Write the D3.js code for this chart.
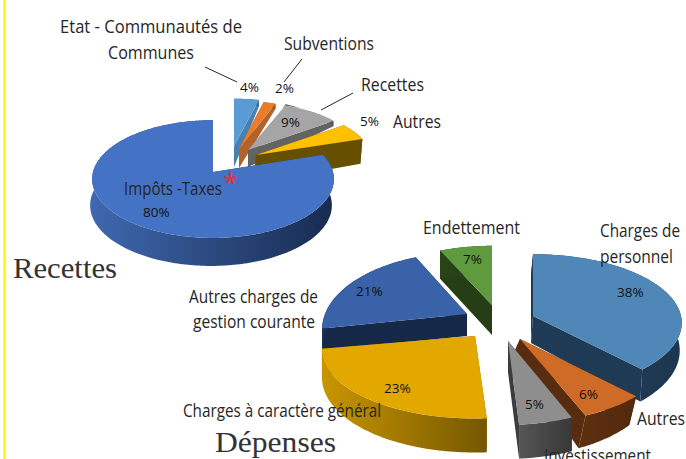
<!DOCTYPE html>
<html>
<head>
<meta charset="utf-8">
<script src="https://cdn.jsdelivr.net/npm/d3@7"></script>
<style>
  html, body { margin: 0; padding: 0; background: #fff; overflow: hidden; }
  text { font-family: "Open Sans", sans-serif; fill: #262626; }
</style>
</head>
<body>
<div id="graph"></div>
<script>
// values, clockwise from 12 o'clock
var recetteNames = ['Etat - Communautés de Communes', 'Subventions', 'Recettes', 'Autres', 'Impôts -Taxes']
var recetteValues = [4, 2, 9, 5, 80]

var depenseNames = ['Charges de personnel', 'Autres', 'Investissement', 'Charges à caractère général', 'Autres charges de gestion courante', 'Endettement']
var depenseValues = [38, 6, 5, 23, 21, 7]

// one row per slice: explode dx, dy, radius x, radius y, wall depth, depth change, wall x shift, perspective
var recetteShape = [
  [21, -26, 112, 53, 21, 15, 0, 0.12],
  [26, -23, 110, 54, 19, 15, 0, 0.12],
  [35, -22, 113, 53, 17, 20, 0, 0.12],
  [43, -17, 116, 54, 28, 10, -2, 0.12],
  [0, 0, 120, 58, 26, 2, -2, 0.12]
]
var depenseShape = [
  [43, -9, 148, 68, 27, 7, -2, 0.1],
  [30, 14, 145, 67, 16, 18, -7, 0.2],
  [18, 16, 141, 67, 31, 3, 0, 0.2],
  [-15, 11, 150, 66, 26, 8, 0, 0.2],
  [-23, -11, 142, 74, 22, 0, 0, 0.2],
  [2, -20, 144, 71, 30, 2, 0, 0.2]
]
var recetteColors = [
  {top: '#5b9bd5', side: '#4a7fae', wall: ['#4a7fae', '#3d6a92']},
  {top: '#e87d2e', side: '#b5612a', wall: ['#b5612a', '#a05524']},
  {top: '#a5a5a5', side: '#636363', wall: ['#6a6a6a', '#555555']},
  {top: '#ffc000', side: '#665000', wall: ['#665000', '#665000']},
  {top: '#4472c4', side: '#1a2f55', wall: ['#3f68b0', '#182b4f']}
]
var depenseColors = [
  {top: '#4f87b9', side: '#1f3a55', wall: ['#24425f', '#1d364f']},
  {top: '#cd6b27', side: '#582c0f', wall: ['#5e3010', '#52290d']},
  {top: '#8e8e8e', side: '#3c3c3c', wall: ['#555555', '#383838']},
  {top: '#e2a800', side: '#8a6600', wall: ['#c99500', '#755700']},
  {top: '#3a62a8', side: '#152848', wall: ['#1a2f55', '#152848']},
  {top: '#5f9a3f', side: '#263d16', wall: ['#2a4418', '#233a14']}
]

var width = 686, height = 459
var svg = d3.select('#graph').append('svg').attr('width', width).attr('height', height)
svg.style('display', 'block')
var defs = svg.append('defs')

svg.append('rect').attr('x', 3).attr('y', 0).attr('width', 3).attr('height', height).attr('fill', '#ffff00')

var pie = d3.pie().sort(null).startAngle(0).endAngle(2 * Math.PI)
var gradId = 0

function drawPie(values, shapes, colors, center, order) {
  var arcs = pie(values)
  var g = svg.append('g')

  order.forEach(i => {
    var d = arcs[i]
    var [dx, dy, rx, ry, d0, d1, sx, k] = shapes[i]
    var c = colors[i]
    var cx = center[0] + dx, cy = center[1] + dy

    var top = a => {
      var u = Math.sin(a), v = -Math.cos(a), s = 1 / (1 - k * v)
      return [cx + rx * u * s, cy + ry * v * s]
    }
    var bottom = a => {
      var v = -Math.cos(a), p = top(a)
      return [p[0] + sx, p[1] + d0 + d1 * v]
    }
    var apexTop = [cx, cy]
    var apexBottom = [cx + sx, cy + d0]

    var steps = Math.ceil((d.endAngle - d.startAngle) / 0.02)
    var angles = d3.range(steps + 1).map(j => d.startAngle + (d.endAngle - d.startAngle) * j / steps)
    var line = d3.line()

    // gradient for the outer wall
    var id = 'wall' + (gradId++)
    var grad = defs.append('linearGradient').attr('id', id)
    grad.append('stop').attr('offset', 0).attr('stop-color', c.wall[0])
    grad.append('stop').attr('offset', 1).attr('stop-color', c.wall[1])

    // radial walls
    ;[d.startAngle, d.endAngle].forEach(a => {
      g.append('path')
        .attr('d', line([apexTop, top(a), bottom(a), apexBottom]) + 'Z')
        .attr('fill', c.side)
    })
    // outer wall
    g.append('path')
      .attr('d', line(angles.map(top).concat(angles.slice().reverse().map(bottom))) + 'Z')
      .attr('fill', 'url(#' + id + ')')
    // top face
    g.append('path')
      .attr('d', line([apexTop].concat(angles.map(top))) + 'Z')
      .attr('fill', c.top)
  })
}

drawPie(recetteValues, recetteShape, recetteColors, [213, 172], [0, 1, 2, 3, 4])
drawPie(depenseValues, depenseShape, depenseColors, [490, 325], [0, 1, 2, 5, 4, 3])

// leader lines
var leaders = [[205, 67, 237, 82], [302, 59, 284, 82], [353, 93, 321, 110]]
svg.selectAll('line.leader').data(leaders).enter().append('line')
  .attr('class', 'leader')
  .attr('x1', d => d[0]).attr('y1', d => d[1])
  .attr('x2', d => d[2]).attr('y2', d => d[3])
  .attr('stroke', '#262626').attr('stroke-width', 1)

// category labels: text, left x, baseline y, width
var names = [
  ['Etat - Communautés de', 60, 33, 182],
  ['Communes', 108, 59, 86],
  [recetteNames[1], 284, 50, 90],
  [recetteNames[2], 361, 91, 63],
  [recetteNames[3], 393, 128, 48],
  [recetteNames[4], 124, 195, 98],
  [depenseNames[5], 423, 234, 97],
  ['Charges de', 600, 237, 80],
  ['personnel', 600, 263, 73],
  [depenseNames[1], 637, 425, 48],
  [depenseNames[2], 544, 462, 107],
  ['Autres charges de', 189, 303, 129],
  ['gestion courante', 193, 328, 122],
  [depenseNames[3], 183, 417, 198]
]
svg.selectAll('text.name').data(names).enter().append('text')
  .attr('class', 'name')
  .attr('x', d => d[1]).attr('y', d => d[2])
  .attr('textLength', d => d[3])
  .attr('lengthAdjust', 'spacingAndGlyphs')
  .style('font-size', '17.5px')
  .text(d => d[0])

// percent labels: left x, baseline y
var recettePos = [[240, 92], [275, 93], [281, 127], [360, 126], [143, 217]]
var depensePos = [[617, 297], [579, 399], [525, 409], [384, 393], [356, 296], [463, 264]]
var pct = recetteValues.map((v, i) => [v, recettePos[i]])
  .concat(depenseValues.map((v, i) => [v, depensePos[i]]))
svg.selectAll('text.pct').data(pct).enter().append('text')
  .attr('class', 'pct')
  .attr('x', d => d[1][0]).attr('y', d => d[1][1])
  .style('font-size', '13.5px')
  .style('fill', '#111')
  .text(d => d[0] + '%')

svg.append('text').attr('x', 223).attr('y', 193)
  .style('font-size', '27px').style('fill', '#e8303a').text('*')

// titles
var titles = [['Recettes', 13, 278, 104], ['Dépenses', 215, 452, 121]]
svg.selectAll('text.title').data(titles).enter().append('text')
  .attr('class', 'title')
  .attr('x', d => d[1]).attr('y', d => d[2])
  .attr('textLength', d => d[3])
  .attr('lengthAdjust', 'spacingAndGlyphs')
  .style('font-family', '"Liberation Serif", serif')
  .style('font-size', '30px')
  .style('fill', '#333')
  .text(d => d[0])
</script>
</body>
</html>
